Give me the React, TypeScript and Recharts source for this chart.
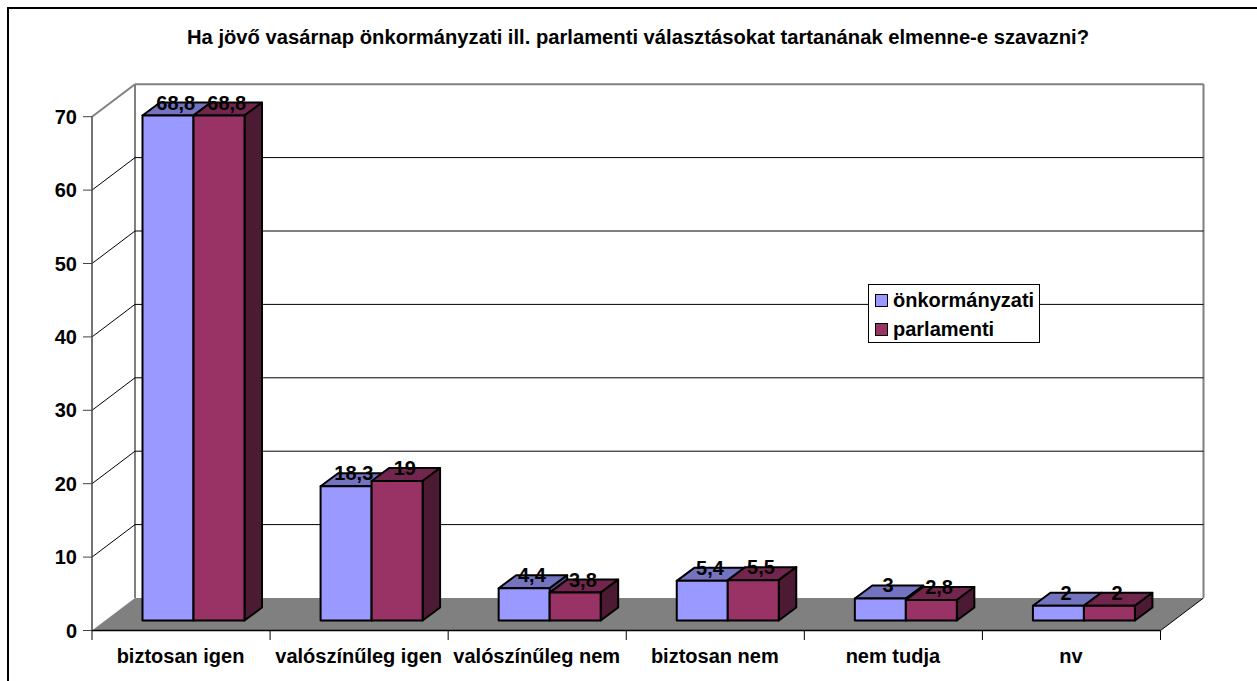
import React from 'react';
import { BarChart, Bar, XAxis, YAxis, CartesianGrid, Legend, LabelList } from 'recharts';

const CATEGORIES = ['biztosan igen', 'valószínűleg igen', 'valószínűleg nem', 'biztosan nem', 'nem tudja', 'nv'];
const ONKORMANYZATI = [68.8, 18.3, 4.4, 5.4, 3, 2];
const PARLAMENTI = [68.8, 19, 3.8, 5.5, 2.8, 2];
const Y_TICKS = [0, 10, 20, 30, 40, 50, 60, 70];

const TITLE = 'Ha jövő vasárnap önkormányzati ill. parlamenti választásokat tartanának elmenne-e szavazni?';
const FONT = '"Liberation Sans", Arial, sans-serif';

const data = CATEGORIES.map((name, i) => ({
  name,
  onkormanyzati: ONKORMANYZATI[i],
  parlamenti: PARLAMENTI[i],
}));

// fake 3d: wall depth and how far the bars sit in from the front edge
const WALL_DX = 43;
const WALL_DY = -32.5;
const BAR_DX = 12.5;
const BAR_DY = -10;
const DEPTH_DX = 17.5;
const DEPTH_DY = -13;
const BAND = (1257 - 96.5 - 92) / CATEGORIES.length;

function Box(props: any) {
  const { x, y, width, height, fill, top, side } = props;
  const l = x + BAR_DX;
  const r = l + width;
  const t = y + BAR_DY;
  const b = t + height;
  return (
    <g stroke="#000" strokeWidth={2} strokeLinejoin="round">
      <polygon fill={top} points={`${l},${t} ${r},${t} ${r + DEPTH_DX},${t + DEPTH_DY} ${l + DEPTH_DX},${t + DEPTH_DY}`} />
      <polygon fill={side} points={`${r},${t} ${r + DEPTH_DX},${t + DEPTH_DY} ${r + DEPTH_DX},${b + DEPTH_DY} ${r},${b}`} />
      <rect x={l} y={t} width={width} height={height} fill={fill} />
    </g>
  );
}

function BarValue(props: any) {
  const { x, y, width, value } = props;
  return (
    <text
      x={x + BAR_DX + width / 2 + DEPTH_DX / 2 - 1}
      y={y + BAR_DY + DEPTH_DY + 7}
      textAnchor="middle"
      fontFamily={FONT}
      fontWeight="bold"
      fontSize={20}
      fill="#000"
    >
      {String(value).replace('.', ',')}
    </text>
  );
}

// excel puts the category ticks between the bands, not under the labels
function CategoryTick(props: any) {
  const { x, payload, index } = props;
  const left = x - BAND / 2;
  return (
    <g>
      <line x1={left} y1={630.5} x2={left} y2={640} stroke="#000" strokeWidth={1} />
      {index === CATEGORIES.length - 1 && (
        <line x1={x + BAND / 2} y1={630.5} x2={x + BAND / 2} y2={640} stroke="#000" strokeWidth={1} />
      )}
      <text x={x - 0.5} y={662.5} textAnchor="middle" fontFamily={FONT} fontWeight="bold" fontSize={20} fill="#000">
        {payload.value}
      </text>
    </g>
  );
}

// each horizontal grid line runs along the side wall and then the back wall
function WallLine(props: any) {
  const { x1, x2, y1 } = props;
  const isFloor = Math.abs(y1 - 630.5) < 2;
  const isTop = Math.abs(y1 - 116.7) < 2;
  const bx1 = x1 + WALL_DX;
  const bx2 = x2 + WALL_DX;
  const by = y1 + WALL_DY;
  if (isFloor) {
    return (
      <g>
        <polygon fill="#808080" points={`${x1},${y1} ${bx1},${by} ${bx2},${by} ${x2},${y1}`} />
        <line x1={x2} y1={y1} x2={bx2} y2={by} stroke="#000" strokeWidth={1} />
        <line x1={bx1} y1={by} x2={bx1} y2={by - 514} stroke="#808080" strokeWidth={2} />
        <line x1={bx2} y1={by} x2={bx2} y2={by - 514} stroke="#808080" strokeWidth={2} />
      </g>
    );
  }
  const color = isTop ? '#808080' : '#000';
  const w = isTop ? 2 : 1;
  return (
    <g>
      <line x1={x1} y1={y1} x2={bx1} y2={by} stroke={color} strokeWidth={w} />
      <line x1={bx1} y1={by} x2={bx2} y2={by} stroke={color} strokeWidth={w} />
    </g>
  );
}

function LegendBox(props: any) {
  const { payload } = props;
  return (
    <div
      style={{
        width: 172,
        height: 59,
        boxSizing: 'border-box',
        border: '1px solid #000',
        background: '#fff',
        fontFamily: FONT,
        fontWeight: 'bold',
        fontSize: 20,
        padding: '1px 0 0 6px',
        lineHeight: '29px',
      }}
    >
      {(payload || []).map((p: any) => (
        <div key={p.value} style={{ display: 'flex', alignItems: 'center', height: 29 }}>
          <span
            style={{
              width: 13,
              height: 13,
              boxSizing: 'border-box',
              background: p.color,
              border: '1.5px solid #000',
              marginRight: 5,
            }}
          />
          {p.value}
        </div>
      ))}
    </div>
  );
}

export default function App() {
  return (
    <div style={{ position: 'absolute', left: 0, top: 0, width: 1257, height: 681, overflow: 'hidden', background: '#fff' }}>
      <div
        style={{
          position: 'absolute',
          left: 7,
          top: 7,
          width: 1250,
          height: 690,
          boxSizing: 'border-box',
          borderTop: '2px solid #000',
          borderLeft: '2px solid #000',
        }}
      />
      <div
        style={{
          position: 'absolute',
          left: 187,
          top: 26,
          whiteSpace: 'nowrap',
          fontFamily: FONT,
          fontWeight: 'bold',
          fontSize: 20.2,
          color: '#000',
        }}
      >
        {TITLE}
      </div>
      <BarChart
        width={1257}
        height={681}
        data={data}
        margin={{ top: 116.7, right: 96.5, bottom: 0, left: 0 }}
        barGap={0}
        barSize={51}
        style={{ position: 'absolute', left: 0, top: 0 }}
      >
        <CartesianGrid vertical={false} horizontal={(p: any) => <WallLine key={p.index} {...p} />} syncWithTicks />
        <XAxis
          dataKey="name"
          interval={0}
          height={50.5}
          tickLine={false}
          axisLine={{ stroke: '#000', strokeWidth: 1.5 }}
          tick={<CategoryTick />}
        />
        <YAxis
          domain={[0, 70]}
          ticks={Y_TICKS}
          width={92}
          tickLine={{ stroke: '#444', strokeWidth: 1 }}
          tickSize={9}
          axisLine={{ stroke: '#444', strokeWidth: 1.5 }}
          tick={{ fill: '#000', fontSize: 20, fontWeight: 'bold', fontFamily: FONT }}
          tickMargin={6}
        />
        <Bar
          dataKey="onkormanyzati"
          name="önkormányzati"
          fill="#9999ff"
          isAnimationActive={false}
          shape={(p: any) => <Box {...p} fill="#9999ff" top="#7373bf" side="#4d4d80" />}
        >
          <LabelList dataKey="onkormanyzati" content={<BarValue />} />
        </Bar>
        <Bar
          dataKey="parlamenti"
          name="parlamenti"
          fill="#993366"
          isAnimationActive={false}
          shape={(p: any) => <Box {...p} fill="#993366" top="#73264d" side="#4d1a33" />}
        >
          <LabelList dataKey="parlamenti" content={<BarValue />} />
        </Bar>
        <Legend
          layout="vertical"
          verticalAlign="middle"
          itemSorter={null}
          content={<LegendBox />}
          wrapperStyle={{ position: 'absolute', left: 868, top: 284, width: 172, right: 'auto', bottom: 'auto' }}
        />
      </BarChart>
    </div>
  );
}
